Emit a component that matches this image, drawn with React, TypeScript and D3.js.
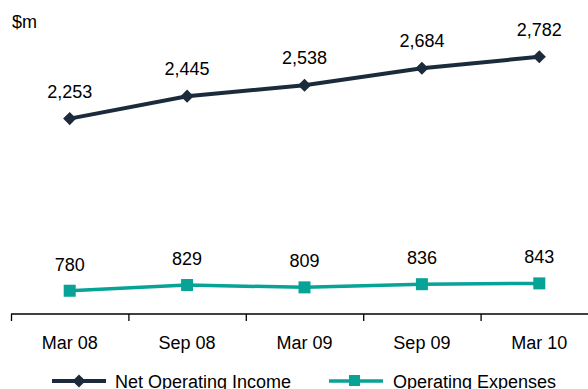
import React from "react";
import * as d3 from "d3";

const periods = ["Mar 08", "Sep 08", "Mar 09", "Sep 09", "Mar 10"];
const netOperatingIncome = [2253, 2445, 2538, 2684, 2782];
const operatingExpenses = [780, 829, 809, 836, 843];
const seriesNames = ["Net Operating Income", "Operating Expenses"];

const W = 588;
const H = 389;
const NAVY = "#1c2b3b";
const TEAL = "#06a396";
const FONT = "'Liberation Sans', Arial, sans-serif";

export default function App() {
  const x = d3.scaleBand<string>().domain(periods).range([11, 598]);
  const cx = (p: string) => (x(p) ?? 0) + x.bandwidth() / 2;
  const y = d3.scaleLinear().domain([0, 3000]).range([381.9, 31.3]);
  const axisY = 314;

  const line = d3
    .line<number>()
    .x((_, i) => cx(periods[i]))
    .y((d) => y(d));

  const fmt = d3.format(",");
  const diamond = d3.symbol().type(d3.symbolDiamond2).size(110)();

  return (
    <svg
      width={W}
      height={H}
      style={{ position: "absolute", left: 0, top: 0, background: "#fff" }}
      fontFamily={FONT}
    >
      <text x={12} y={28} fontSize={18} fill="#000">
        $m
      </text>

      {/* x axis */}
      <line x1={11} x2={W} y1={axisY} y2={axisY} stroke="#000" strokeWidth={1.3} />
      {periods.map((p) => (
        <line
          key={"t" + p}
          x1={(x(p) ?? 0) + 0.5}
          x2={(x(p) ?? 0) + 0.5}
          y1={axisY}
          y2={axisY + 7}
          stroke="#000"
          strokeWidth={1.3}
        />
      ))}
      {periods.map((p) => (
        <text key={"l" + p} x={cx(p)} y={349} fontSize={18} textAnchor="middle" fill="#000">
          {p}
        </text>
      ))}

      {/* Net Operating Income */}
      <path d={line(netOperatingIncome) ?? ""} fill="none" stroke={NAVY} strokeWidth={4} />
      {netOperatingIncome.map((v, i) => (
        <g key={"n" + i}>
          <path d={diamond ?? ""} transform={`translate(${cx(periods[i])},${y(v)})`} fill={NAVY} />
          <text x={cx(periods[i])} y={y(v) - 21} fontSize={18} textAnchor="middle" fill="#000">
            {fmt(v)}
          </text>
        </g>
      ))}

      {/* Operating Expenses */}
      <path d={line(operatingExpenses) ?? ""} fill="none" stroke={TEAL} strokeWidth={3.5} />
      {operatingExpenses.map((v, i) => (
        <g key={"o" + i}>
          <rect x={cx(periods[i]) - 6} y={y(v) - 6} width={12} height={12} fill={TEAL} />
          <text x={cx(periods[i])} y={y(v) - 20} fontSize={18} textAnchor="middle" fill="#000">
            {fmt(v)}
          </text>
        </g>
      ))}

      {/* legend */}
      <g>
        <line x1={52} x2={106} y1={381} y2={381} stroke={NAVY} strokeWidth={4} />
        <path d={diamond ?? ""} transform="translate(79,381)" fill={NAVY} />
        <text x={115} y={388} fontSize={18} fill="#000">
          {seriesNames[0]}
        </text>
        <line x1={329} x2={383} y1={381} y2={381} stroke={TEAL} strokeWidth={3.5} />
        <rect x={349} y={375} width={11} height={11} fill={TEAL} />
        <text x={393} y={388} fontSize={18} fill="#000">
          {seriesNames[1]}
        </text>
      </g>
    </svg>
  );
}
